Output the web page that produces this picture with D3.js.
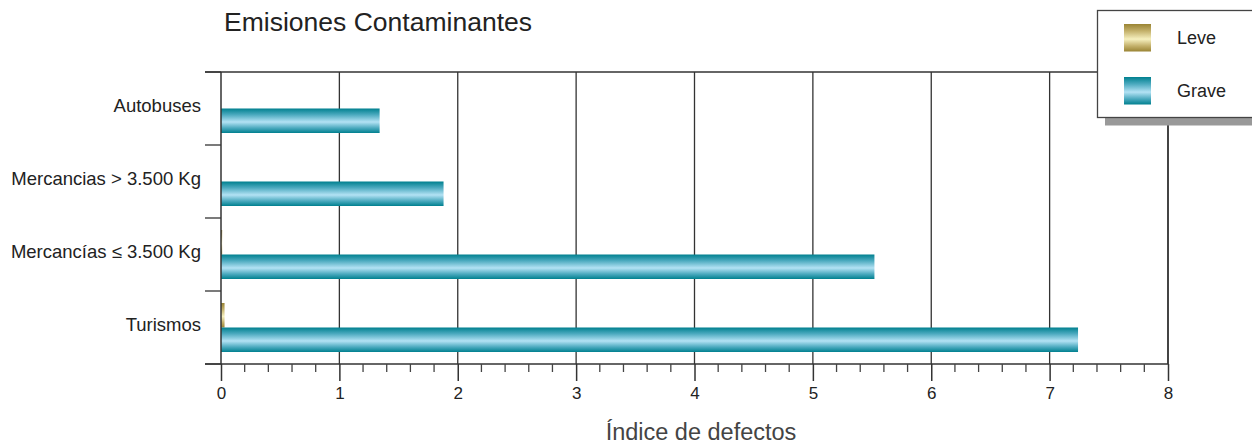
<!DOCTYPE html>
<html>
<head>
<meta charset="utf-8">
<script src="https://cdn.jsdelivr.net/npm/d3@7"></script>
<style>
  html, body { margin: 0; padding: 0; background: #fff; }
  svg { display: block; }
  text { font-family: "Liberation Sans", Arial, sans-serif; fill: #222; }
</style>
</head>
<body>
<svg id="chart" width="1252" height="445"></svg>
<script>
// Vehicle categories (top to bottom) and defect index per severity
const categories = ["Autobuses", "Mercancias > 3.500 Kg", "Mercancías ≤ 3.500 Kg", "Turismos"];
const leve  = [0, 0, 0.01, 0.03];
const grave = [1.34, 1.88, 5.52, 7.24];
const seriesNames = ["Leve", "Grave"];
const xTicks = [0, 1, 2, 3, 4, 5, 6, 7, 8];

const svg = d3.select("#chart");
const plotLeft = 221, plotRight = 1168, plotTop = 72, plotBottom = 364;

const x = d3.scaleLinear().domain([0, 8]).range([plotLeft, plotRight]);
const y = d3.scaleBand().domain(categories).range([plotTop, plotBottom]).paddingInner(0).paddingOuter(0);
const sub = d3.scaleBand().domain(seriesNames).range([12, 61]);

// Gradients: dark edges, light middle
const defs = svg.append("defs");
function barGradient(id, dark, mid, light) {
  const g = defs.append("linearGradient").attr("id", id)
    .attr("x1", 0).attr("y1", 0).attr("x2", 0).attr("y2", 1);
  g.append("stop").attr("offset", "0%").attr("stop-color", dark);
  g.append("stop").attr("offset", "25%").attr("stop-color", mid);
  g.append("stop").attr("offset", "55%").attr("stop-color", light);
  g.append("stop").attr("offset", "80%").attr("stop-color", mid);
  g.append("stop").attr("offset", "100%").attr("stop-color", dark);
}
barGradient("gGrave", "#00808f", "#4aa9be", "#b3e2f4");
barGradient("gLeve", "#9a8434", "#c3b06a", "#f6f0bf");

// Vertical grid lines at integer ticks
svg.append("g").selectAll("line").data(xTicks.slice(1)).join("line")
  .attr("x1", d => x(d)).attr("x2", d => x(d))
  .attr("y1", plotTop).attr("y2", plotBottom)
  .attr("stroke", "#333").attr("stroke-width", 1.3);

// Top frame line
svg.append("line").attr("x1", 205).attr("x2", plotRight).attr("y1", plotTop).attr("y2", plotTop)
  .attr("stroke", "#333").attr("stroke-width", 1.3);

// Bars
const groups = svg.append("g").selectAll("g").data(categories).join("g")
  .attr("transform", d => `translate(0,${y(d)})`);
groups.append("rect")
  .attr("x", x(0)).attr("y", sub("Leve"))
  .attr("width", (d, i) => x(leve[i]) - x(0)).attr("height", sub.bandwidth())
  .attr("fill", "url(#gLeve)");
groups.append("rect")
  .attr("x", x(0)).attr("y", sub("Grave"))
  .attr("width", (d, i) => x(grave[i]) - x(0)).attr("height", sub.bandwidth())
  .attr("fill", "url(#gGrave)");

// Left axis with boundary ticks
svg.append("line").attr("x1", plotLeft).attr("x2", plotLeft).attr("y1", plotTop).attr("y2", plotBottom)
  .attr("stroke", "#333").attr("stroke-width", 1.5);
const bounds = categories.map(c => y(c)).concat([plotBottom]);
svg.append("g").selectAll("line").data(bounds).join("line")
  .attr("x1", 205).attr("x2", plotLeft).attr("y1", d => d).attr("y2", d => d)
  .attr("stroke", "#333").attr("stroke-width", 1.3);
svg.append("g").selectAll("text").data(categories).join("text")
  .attr("x", 201).attr("y", d => y(d) + y.bandwidth() / 2 + 3.5)
  .attr("text-anchor", "end")
  .attr("font-size", 18.5).text(d => d);

// Bottom axis
const xAxis = d3.axisBottom(x).tickValues(xTicks).tickSize(17).tickPadding(6).tickFormat(d3.format("d"));
const gx = svg.append("g").attr("transform", `translate(0,${plotBottom})`).call(xAxis);
gx.select(".domain").remove();
gx.selectAll(".tick line").attr("stroke", "#333").attr("stroke-width", 1.5);
gx.selectAll(".tick text").attr("font-size", 17).attr("fill", "#222")
  .attr("font-family", "Liberation Sans, Arial, sans-serif");
svg.append("line").attr("x1", 205).attr("x2", plotRight).attr("y1", plotBottom).attr("y2", plotBottom)
  .attr("stroke", "#333").attr("stroke-width", 1.5);
// Minor ticks every 0.2
const minor = d3.range(0, 40).map(i => i * 0.2).filter(v => Math.abs(v - Math.round(v)) > 1e-6);
svg.append("g").selectAll("line").data(minor).join("line")
  .attr("x1", d => x(d)).attr("x2", d => x(d))
  .attr("y1", plotBottom).attr("y2", plotBottom + 8)
  .attr("stroke", "#444").attr("stroke-width", 1.3);

// Right frame line
svg.append("line").attr("x1", plotRight).attr("x2", plotRight).attr("y1", plotTop).attr("y2", plotBottom)
  .attr("stroke", "#333").attr("stroke-width", 1.5);

// Titles
svg.append("text").attr("x", 224).attr("y", 31).attr("font-size", 25)
  .attr("textLength", 308).attr("lengthAdjust", "spacingAndGlyphs")
  .text("Emisiones Contaminantes");
svg.append("text").attr("x", 701).attr("y", 440).attr("text-anchor", "middle")
  .attr("font-size", 23.5).attr("font-family", "Lato, sans-serif").attr("font-weight", 300)
  .style("fill", "#444").text("Índice de defectos");

// Legend with drop shadow
const lg = svg.append("g");
lg.append("rect").attr("x", 1105).attr("y", 17).attr("width", 160).attr("height", 108.5).attr("fill", "#999");
lg.append("rect").attr("x", 1097.5).attr("y", 10.5).attr("width", 160).attr("height", 107)
  .attr("fill", "#fff").attr("stroke", "#444").attr("stroke-width", 1.3);
const legendFill = { Leve: "url(#gLeve)", Grave: "url(#gGrave)" };
seriesNames.forEach((s, i) => {
  lg.append("rect").attr("x", 1124).attr("y", 24 + i * 53).attr("width", 27).attr("height", 27.5)
    .attr("fill", legendFill[s]);
  lg.append("text").attr("x", 1177).attr("y", 43.5 + i * 53)
    .attr("font-size", 18).text(s);
});
</script>
</body>
</html>
